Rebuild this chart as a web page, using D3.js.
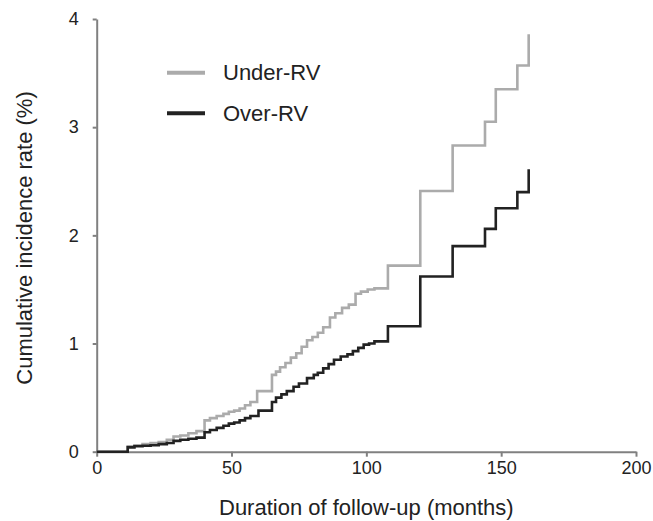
<!DOCTYPE html>
<html>
<head>
<meta charset="utf-8">
<title>Cumulative incidence</title>
<style type="text/css">
	body { margin: 0; background: #fff; }
	svg text { font-family: Arial, "Liberation Sans", sans-serif; fill: #222; }
	.axis path, .axis line { stroke: #808080; stroke-width: 2; }
</style>
<script src="https://cdn.jsdelivr.net/npm/d3@7/dist/d3.min.js"></script>
</head>
<body>
<div id="chart"></div>
<script type="text/javascript">
// step points (months, %)
var underMonths = [0, 11.5, 14, 17, 20, 23, 26, 28.5, 31, 34, 37, 40, 42, 44.5, 47, 49, 51, 53, 55, 57, 59.5,
	65, 66.5, 68, 70, 72, 74, 76, 78, 80, 82, 84, 86.5, 88.5, 91, 93.5, 96, 98, 100.5, 103, 108, 120, 132, 144, 148, 156, 160.2];
var underValues = [0, 0.05, 0.06, 0.07, 0.08, 0.09, 0.11, 0.14, 0.15, 0.17, 0.19, 0.29, 0.31, 0.33, 0.35, 0.37, 0.38, 0.40, 0.43, 0.46, 0.56,
	0.71, 0.74, 0.78, 0.82, 0.87, 0.91, 0.97, 1.03, 1.06, 1.10, 1.15, 1.24, 1.28, 1.33, 1.36, 1.46, 1.48, 1.50, 1.51, 1.72, 2.41, 2.83, 3.05, 3.35, 3.57, 3.86];

var overMonths = [0, 11.5, 14, 17, 20, 23, 26, 28.5, 31, 34, 37, 40, 42, 44.5, 47, 49, 51, 53, 55, 57, 60,
	65, 66.5, 68.5, 70.5, 73, 75, 78, 80.5, 82, 84, 86, 88, 90.5, 93, 95, 97, 99, 101, 103, 108, 120, 132, 144, 148, 156, 160.2];
var overValues = [0, 0.04, 0.05, 0.055, 0.06, 0.07, 0.08, 0.10, 0.11, 0.12, 0.13, 0.18, 0.20, 0.22, 0.24, 0.26, 0.27, 0.29, 0.31, 0.33, 0.38,
	0.46, 0.50, 0.53, 0.56, 0.60, 0.63, 0.68, 0.71, 0.73, 0.77, 0.81, 0.85, 0.88, 0.90, 0.93, 0.96, 0.99, 1.00, 1.02, 1.16, 1.62, 1.90, 2.06, 2.25, 2.40, 2.61];

var xTicks = [0, 50, 100, 150, 200];
var yTicks = [0, 1, 2, 3, 4];

var seriesNames = ['Under-RV', 'Over-RV'];
var seriesColors = ['#ababab', '#222222'];

var width = 653, height = 521;

var svg = d3.select('#chart').append('svg')
		.attr('width', width)
		.attr('height', height);

var x = d3.scaleLinear().domain([0, 200]).range([96.7, 636]);
var y = d3.scaleLinear().domain([0, 4]).range([451.7, 19]);

// axes
var yAxis = svg.append('g')
		.attr('class', 'axis')
		.attr('transform', 'translate(' + x(0) + ',0)')
		.call(d3.axisLeft(y).tickValues(yTicks).tickFormat(d3.format('d'))
			.tickSizeInner(4).tickSizeOuter(0).tickPadding(14));
yAxis.selectAll('text').style('font-size', '18px');

var xAxis = svg.append('g')
		.attr('class', 'axis')
		.attr('transform', 'translate(0,' + y(0) + ')')
		.call(d3.axisBottom(x).tickValues(xTicks).tickFormat(d3.format('d'))
			.tickSizeInner(5).tickSizeOuter(0).tickPadding(5));
xAxis.selectAll('text').style('font-size', '18px');
svg.selectAll('.axis text').attr('fill', '#222');

// curves
var line = d3.line()
		.x(function(d) { return x(d[0]); })
		.y(function(d) { return y(d[1]); })
		.curve(d3.curveStepAfter);

var series = [
	d3.zip(underMonths, underValues),
	d3.zip(overMonths, overValues)
];

svg.selectAll('.curve')
		.data(series)
	.enter().append('path')
		.attr('class', 'curve')
		.attr('fill', 'none')
		.attr('stroke', function(d, i) { return seriesColors[i]; })
		.attr('stroke-width', 2.6)
		.attr('d', line);

// legend
var legend = svg.selectAll('.legend')
		.data(seriesNames)
	.enter().append('g')
		.attr('class', 'legend')
		.attr('transform', function(d, i) { return 'translate(167,' + (72.7 + i * 40.6) + ')'; });
legend.append('line')
		.attr('x1', 0).attr('x2', 38)
		.attr('stroke', function(d, i) { return seriesColors[i]; })
		.attr('stroke-width', 4);
legend.append('text')
		.attr('x', 56)
		.attr('y', 7.5)
		.style('font-size', '22px')
		.text(function(d) { return d; });

// titles
svg.append('text')
		.attr('x', (x(0) + x(200)) / 2)
		.attr('y', 515)
		.attr('text-anchor', 'middle')
		.style('font-size', '22px')
		.text('Duration of follow-up (months)');

svg.append('text')
		.attr('transform', 'translate(32,238) rotate(-90)')
		.attr('text-anchor', 'middle')
		.style('font-size', '22px')
		.text('Cumulative incidence rate (%)');
</script>
</body>
</html>
